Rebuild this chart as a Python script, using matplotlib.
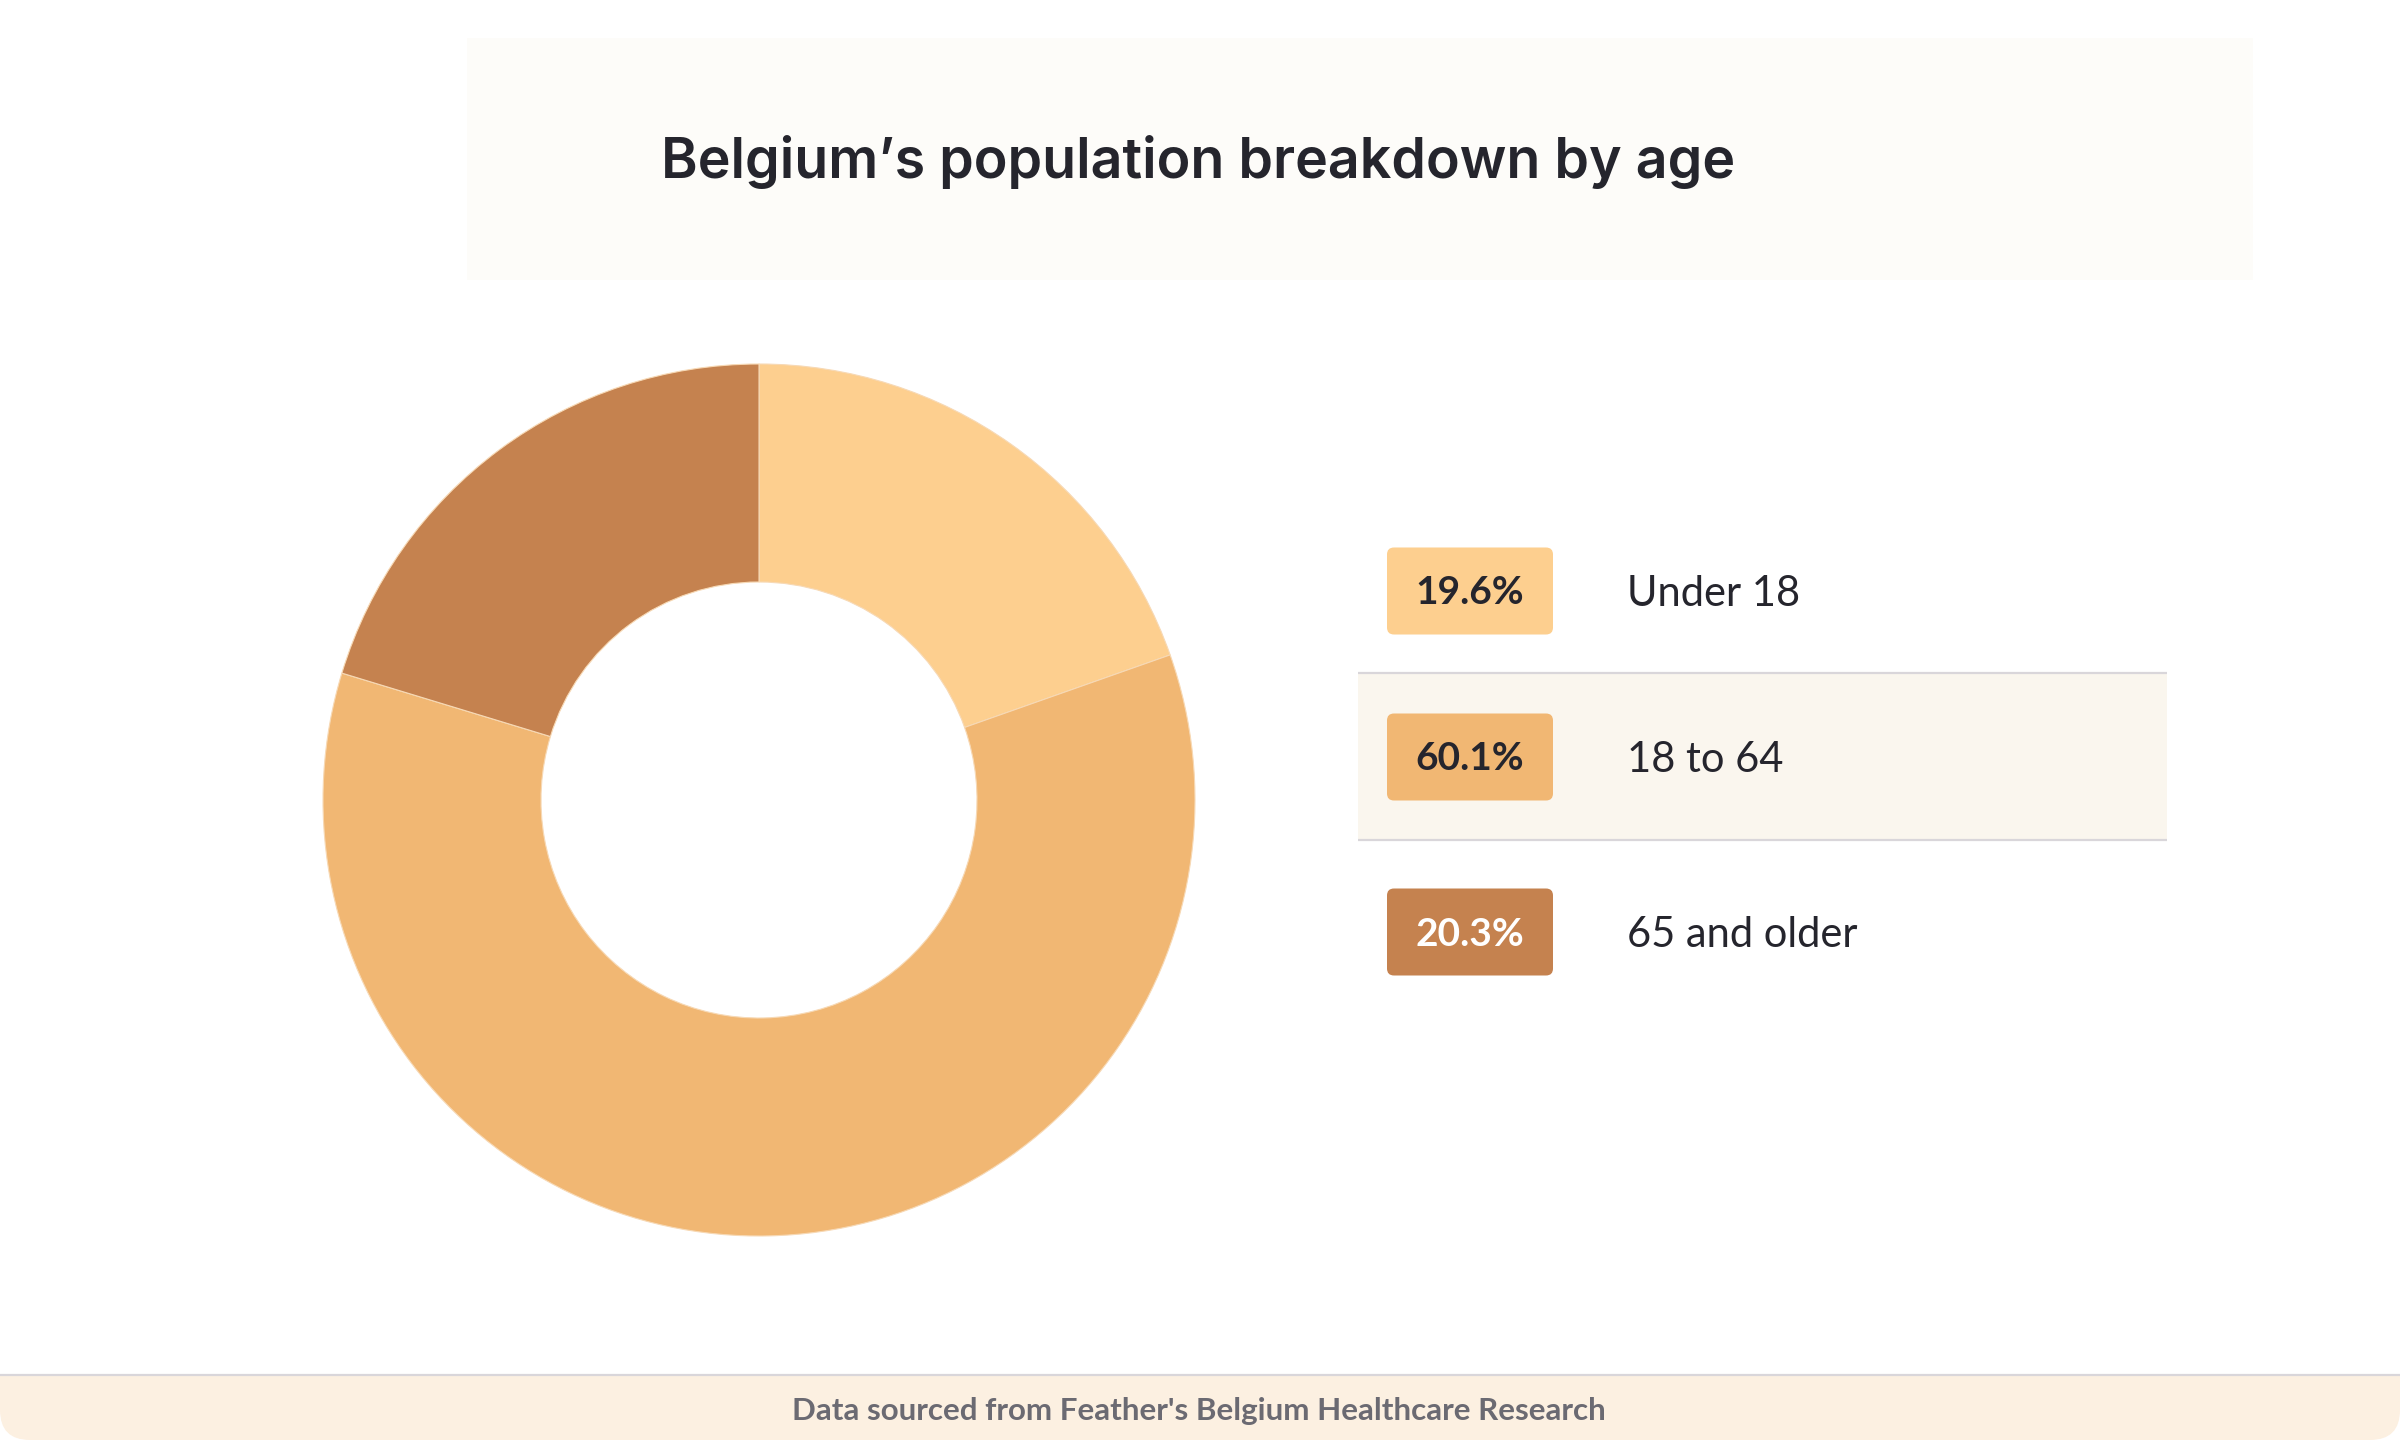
import matplotlib.pyplot as plt
from matplotlib.patches import FancyBboxPatch, Rectangle

# data
groups = ["Under 18", "18 to 64", "65 and older"]
shares = [19.6, 60.1, 20.3]
share_labels = ["19.6%", "60.1%", "20.3%"]
colors = ["#FDCF8F", "#F1B773", "#C5824F"]
badge_text_colors = ["#25252D", "#25252D", "#FFFFFF"]

title = "Belgium\u2019s population breakdown by age"
source = "Data sourced from Feather's Belgium Healthcare Research"

W, H = 2400, 1440
fig = plt.figure(figsize=(24, 14.4), dpi=100, facecolor="white")

# overlay in pixel coords
bg = fig.add_axes([0, 0, 1, 1])
bg.set_xlim(0, W)
bg.set_ylim(H, 0)
bg.axis("off")

# title box
bg.add_patch(Rectangle((467, 38), 2253 - 467, 280 - 38, color="#FDFCF9", lw=0))
bg.text(661, 162, title, fontsize=40, family=["Inter", "DejaVu Sans"], weight="semibold",
        color="#25252D", va="center", ha="left")

# donut
cx, cy, R = 759, 800, 436
ax = fig.add_axes([(cx - R) / W, (H - cy - R) / H, 2 * R / W, 2 * R / H])
ax.pie(shares, colors=colors, startangle=90, counterclock=False, radius=1,
       wedgeprops=dict(width=0.5, edgecolor="#F7D9B5", linewidth=0.8))
ax.set_xlim(-1, 1)
ax.set_ylim(-1, 1)
ax.set_aspect("auto")
ax.axis("off")

# legend rows
row_y = [591, 757, 932]
badge_x0, badge_x1 = 1387, 1553
badge_h = 87

# highlighted middle row
bg.add_patch(Rectangle((1358, 673), 2167 - 1358, 840 - 673, color="#FAF6EE", lw=0))
for yy in (673, 840):
    bg.plot([1358, 2167], [yy, yy], color="#D9D6DA", lw=1.6, solid_capstyle="butt")

for i, g in enumerate(groups):
    y = row_y[i]
    bg.add_patch(FancyBboxPatch((badge_x0, y - badge_h / 2), badge_x1 - badge_x0, badge_h,
                                boxstyle="round,pad=0,rounding_size=7",
                                fc=colors[i], ec="none"))
    bg.text((badge_x0 + badge_x1) / 2, y + 2, share_labels[i], fontsize=28,
            family=["Lato", "DejaVu Sans"], weight="bold", color=badge_text_colors[i],
            ha="center", va="center")
    bg.text(1627, y + 3, g, fontsize=30, family=["Lato", "DejaVu Sans"],
            color="#25252D", ha="left", va="center")

# footer
bg.add_patch(FancyBboxPatch((0, 1374), W, H - 1374, boxstyle="round,pad=0,rounding_size=30",
                            fc="#FCF0E1", ec="none"))
bg.add_patch(Rectangle((0, 1374), W, 35, color="#FCF0E1", lw=0))
bg.plot([0, W], [1375, 1375], color="#D9D6DA", lw=1.6)
bg.text(1199, 1411, source, fontsize=22.6, family=["Lato", "DejaVu Sans"], weight="bold",
        color="#6B6A72", ha="center", va="center")

fig.savefig("out.png", dpi=100, facecolor="white")
